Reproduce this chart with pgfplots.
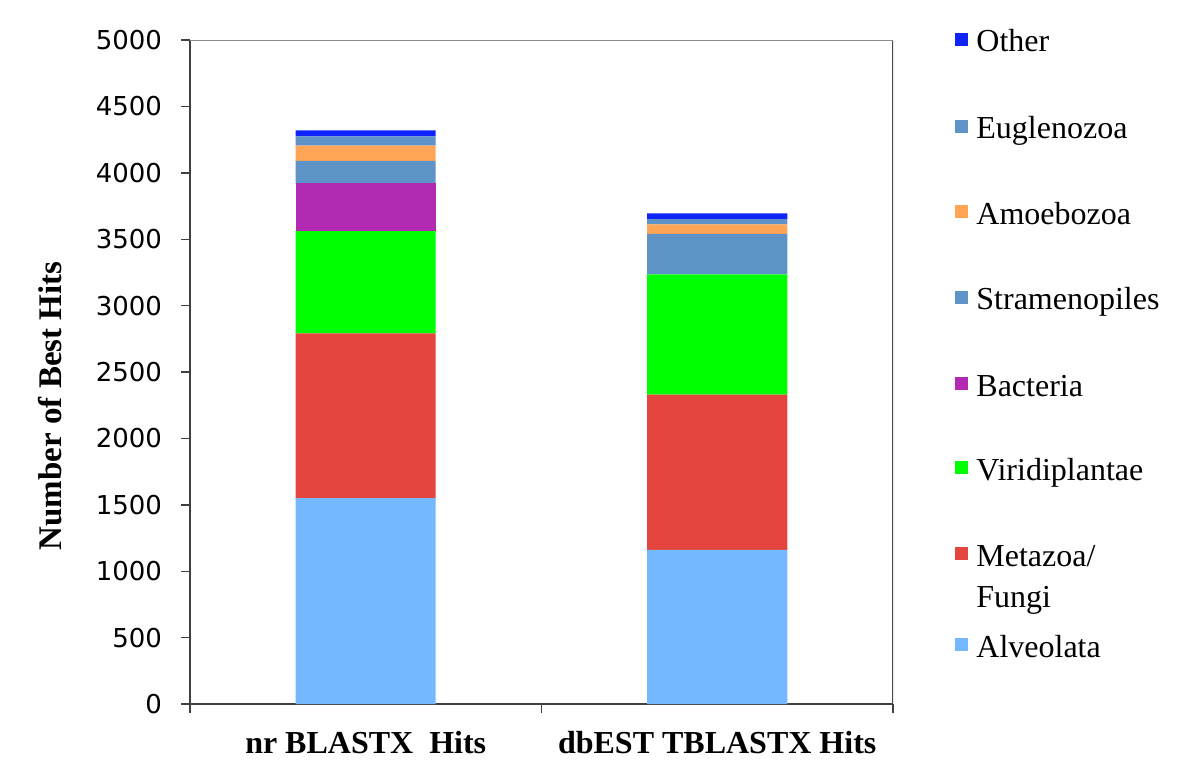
\documentclass[border=0pt]{standalone}
\usepackage{pgfplots}
\pgfplotsset{compat=1.18}
\usepackage{fontspec}
\setmainfont{Liberation Serif}
\newfontfamily\tickfont{DejaVu Sans}
\definecolor{cOther}{HTML}{0F23FA}
\definecolor{cEugl}{HTML}{5E93C7}
\definecolor{cAmoe}{HTML}{FFA555}
\definecolor{cStra}{HTML}{5E93C7}
\definecolor{cBact}{HTML}{B22AB2}
\definecolor{cViri}{HTML}{00FF00}
\definecolor{cMeta}{HTML}{E5453F}
\definecolor{cAlve}{HTML}{74B8FF}
\begin{document}
\begin{tikzpicture}
\path (-95pt,-37pt) rectangle (505pt,352pt);
\begin{axis}[
  scale only axis, width=351.5pt, height=332pt,
  ybar stacked, bar width=70pt,
  xmin=-0.5, xmax=1.5, ymin=0, ymax=5000,
  ytick distance=500,
  xtick={0,1}, xticklabels={nr BLASTX~~Hits, dbEST TBLASTX Hits},
  minor xtick={-0.5,0.5,1.5},
  major x tick style={draw=none},
  tick align=outside, tick pos=left,
  major tick length=4.5pt, minor tick length=4.5pt,
  every tick/.style={black!75, line width=0.7pt},
  axis x line*=bottom, axis y line*=left,
  axis line style={black!75, line width=1pt, -},
  /pgf/number format/assume math mode=true,
  /pgf/number format/set thousands separator={},
  yticklabel style={font=\tickfont\fontsize{13}{15}\selectfont, xshift=-6pt},
  xticklabel style={font=\bfseries\fontsize{16}{18}\selectfont, anchor=base, yshift=-20pt},
  ylabel={Number of Best Hits},
  ylabel style={at={(rel axis cs:-0.1991,0.449)}, anchor=center, font=\bfseries\fontsize{16.5}{18}\selectfont},
  every axis plot/.append style={draw=none},
]
\addplot[fill=cAlve] coordinates {(0,1550) (1,1160)};
\addplot[fill=cMeta] coordinates {(0,1240) (1,1170)};
\addplot[fill=cViri] coordinates {(0,770) (1,905)};
\addplot[fill=cBact] coordinates {(0,360) (1,0)};
\addplot[fill=cStra] coordinates {(0,170) (1,305)};
\addplot[fill=cAmoe] coordinates {(0,115) (1,72)};
\addplot[fill=cEugl] coordinates {(0,70) (1,40)};
\addplot[fill=cOther] coordinates {(0,45) (1,43)};
\draw[black!45, line width=1pt] (rel axis cs:0,1) -- (rel axis cs:1,1);
\draw[black!70, line width=1pt] (rel axis cs:1,1) -- (rel axis cs:1,0);
\end{axis}
\begin{scope}[every node/.style={anchor=base west, inner sep=0pt, font=\fontsize{16}{18}\selectfont}]
\fill[cOther] (382.5pt,329pt) rectangle ++(6.5pt,6.5pt); \node at (393pt,326pt) {Other};
\fill[cEugl] (382.5pt,285.5pt) rectangle ++(6.5pt,6.5pt); \node at (393pt,282.5pt) {Euglenozoa};
\fill[cAmoe] (382.5pt,243pt) rectangle ++(6.5pt,6.5pt); \node at (393pt,240pt) {Amoebozoa};
\fill[cStra] (382.5pt,200pt) rectangle ++(6.5pt,6.5pt); \node at (393pt,197pt) {Stramenopiles};
\fill[cBact] (382.5pt,157pt) rectangle ++(6.5pt,6.5pt); \node at (393pt,154pt) {Bacteria};
\fill[cViri] (382.5pt,115pt) rectangle ++(6.5pt,6.5pt); \node at (393pt,112pt) {Viridiplantae};
\fill[cMeta] (382.5pt,72pt) rectangle ++(6.5pt,6.5pt); \node at (393pt,69pt) {Metazoa/};
\node at (393pt,48.5pt) {Fungi};
\fill[cAlve] (382.5pt,26.5pt) rectangle ++(6.5pt,6.5pt); \node at (393pt,23.5pt) {Alveolata};
\end{scope}
\end{tikzpicture}
\end{document}
